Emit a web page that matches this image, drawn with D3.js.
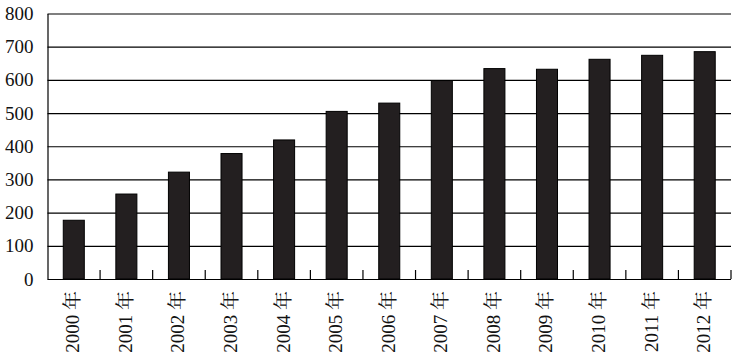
<!DOCTYPE html>
<html>
<head>
<meta charset="utf-8">
<script src="https://cdn.jsdelivr.net/npm/d3@7"></script>
<style>
  body { margin: 0; background: #fff; }
  svg { display: block; }
</style>
</head>
<body>
<script>
// datos
var anios = ["2000", "2001", "2002", "2003", "2004", "2005", "2006",
             "2007", "2008", "2009", "2010", "2011", "2012"];
var valores = [177, 256, 322, 378, 419, 505, 530, 598, 634, 632, 662, 674, 685];
var ticksY = [0, 100, 200, 300, 400, 500, 600, 700, 800];
var sufijo = " 年";

var ancho = 737, alto = 361;
var izq = 47.5, der = 731, arriba = 13.5, abajo = 279;
var fuente = "'Liberation Serif', 'Noto Serif CJK SC', serif";

var svg = d3.select("body")
  .append("svg")
  .attr("width", ancho)
  .attr("height", alto);

// escalas
var x = d3.scaleBand()
  .domain(anios)
  .range([izq, der])
  .paddingInner(0.6)
  .paddingOuter(0.3);

var y = d3.scaleLinear()
  .domain([0, 800])
  .range([abajo, arriba]);

// eje y con lineas de la grilla
var ejeY = svg.append("g")
  .attr("transform", "translate(" + izq + ",0)")
  .call(d3.axisLeft(y)
    .tickValues(ticksY)
    .tickSize(-(der - izq))
    .tickSizeOuter(0)
    .tickPadding(14))
  .attr("font-family", fuente)
  .attr("font-size", 19);

ejeY.select(".domain").attr("stroke", "#000").attr("stroke-width", 1.2);
ejeY.selectAll(".tick line").attr("stroke", "#000").attr("stroke-width", 1.2);
ejeY.selectAll(".tick text").attr("fill", "#111");

// barras
svg.selectAll("rect.barra")
  .data(valores)
  .enter()
  .append("rect")
  .attr("class", "barra")
  .attr("x", function(d, i) { return x(anios[i]); })
  .attr("y", function(d) { return y(d); })
  .attr("width", x.bandwidth())
  .attr("height", function(d) { return y(0) - y(d); })
  .attr("fill", "#231f20")
  .attr("stroke", "#000")
  .attr("stroke-width", 1);

// marcas entre categorias (hacia arriba)
svg.selectAll("line.marca")
  .data(anios)
  .enter()
  .append("line")
  .attr("class", "marca")
  .attr("x1", function(d) { return x(d) + x.bandwidth() + x.step() * x.paddingInner() / 2; })
  .attr("x2", function(d) { return x(d) + x.bandwidth() + x.step() * x.paddingInner() / 2; })
  .attr("y1", y(0))
  .attr("y2", y(0) - 9)
  .attr("stroke", "#000")
  .attr("stroke-width", 1.2);

// etiquetas del eje x, giradas
svg.selectAll("text.anio")
  .data(anios)
  .enter()
  .append("text")
  .attr("class", "anio")
  .attr("transform", function(d) {
    return "translate(" + (x(d) + x.bandwidth() / 2 - 1) + "," + 291 + ") rotate(-90)";
  })
  .attr("text-anchor", "end")
  .attr("dominant-baseline", "central")
  .attr("fill", "#111")
  .attr("font-family", fuente)
  .attr("font-size", 19)
  .text(function(d) { return d + sufijo; });
</script>
</body>
</html>
